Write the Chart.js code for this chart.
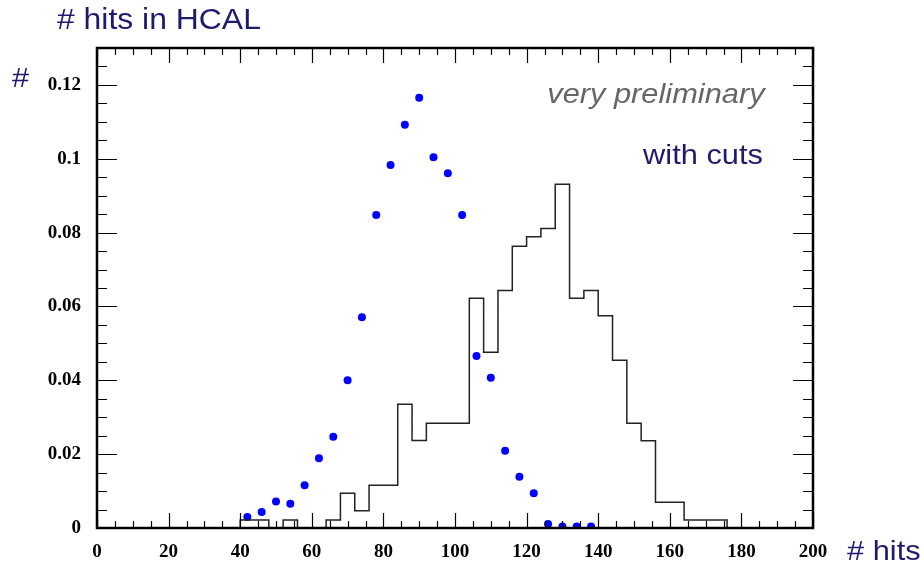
<!DOCTYPE html>
<html>
<head>
<meta charset="utf-8">
<script src="https://cdn.jsdelivr.net/npm/chart.js@4.4.1/dist/chart.umd.min.js"></script>
<style>
  body { margin: 0; background: #fff; }
  #wrap { position: relative; width: 924px; height: 568px; }
  .lbl { position: absolute; font-family: "Liberation Sans", Arial, sans-serif; color: #1e1a6e; white-space: nowrap; line-height: 1; transform: scaleX(1.1); }
  .l { transform-origin: left center; }
  .r { transform-origin: right center; }
</style>
</head>
<body>
<div id="wrap">
  <canvas id="myChart" width="924" height="568"></canvas>
  <div class="lbl l" style="left:57px; top:5px; font-size:29px;"># hits in HCAL</div>
  <div class="lbl l" style="left:12px; top:64px; font-size:28px;">#</div>
  <div class="lbl l" style="left:847px; top:537px; font-size:28px;"># hits</div>
  <div class="lbl r" style="right:159px; top:80px; font-size:28px; font-style:italic; color:#666;">very preliminary</div>
  <div class="lbl r" style="right:161px; top:141px; font-size:28px;">with cuts</div>
</div>
<script>
// histogram of hits (black outline), bin edges and bin contents
const histEdges = [40, 44, 48, 52, 56, 60, 64, 68, 72, 76, 80, 84, 88, 92, 96, 100, 104, 108,
  112, 116, 120, 124, 128, 132, 136, 140, 144, 148, 152, 156, 160, 164, 168, 172, 176];
const histValues = [0.0022, 0.0022, 0, 0.0022, 0, 0, 0.0022, 0.0094, 0.0047, 0.0116, 0.0116,
  0.0335, 0.0237, 0.0284, 0.0284, 0.0284, 0.0622, 0.0476, 0.0643, 0.0763, 0.0789, 0.0811,
  0.0931, 0.0622, 0.0643, 0.0575, 0.0454, 0.0284, 0.0236, 0.0070, 0.0070, 0.0022, 0.0022, 0.0022];

// blue markers
const pointX = [42, 46, 50, 54, 58, 62, 66, 70, 74, 78, 82, 86, 90, 94, 98, 102, 106, 110,
  114, 118, 122, 126, 130, 134, 138];
const pointY = [0.0030, 0.0043, 0.0072, 0.0066, 0.0116, 0.0189, 0.0247, 0.0400, 0.0571, 0.0848,
  0.0983, 0.1092, 0.1165, 0.1004, 0.0961, 0.0848, 0.0466, 0.0407, 0.0209, 0.0139, 0.0094,
  0.0011, 0.0004, 0.0004, 0.0004];

const yTickValues = [0, 0.02, 0.04, 0.06, 0.08, 0.1, 0.12];

const myChartElement = document.getElementById('myChart');

// outline: each bin value runs from its low edge to the next edge
let histData = [{ x: histEdges[0], y: 0 }];
histValues.forEach((v, i) => {
  histData.push({ x: histEdges[i + 1], y: v });
});
histData.push({ x: histEdges[histEdges.length - 1], y: 0 });

let pointData = pointX.map((x, i) => ({ x: x, y: pointY[i] }));

// ROOT-like frame with inward ticks on all four sides
const frameTicks = {
  id: 'frameTicks',
  afterDatasetsDraw(chart) {
    const { ctx, chartArea: a, scales: { x, y } } = chart;
    ctx.save();
    ctx.strokeStyle = '#000';
    ctx.lineWidth = 1.2;
    ctx.beginPath();
    for (let v = 0; v <= 200; v += 5) {
      const px = Math.round(x.getPixelForValue(v)) + 0.5;
      const len = v % 20 === 0 ? 15 : 7;
      ctx.moveTo(px, a.bottom); ctx.lineTo(px, a.bottom - len);
      ctx.moveTo(px, a.top); ctx.lineTo(px, a.top + len);
    }
    for (let k = 0; k <= 26; k++) {
      const v = k * 0.005;
      const py = Math.round(y.getPixelForValue(v)) + 0.5;
      const len = k % 4 === 0 ? 20 : 10;
      ctx.moveTo(a.left, py); ctx.lineTo(a.left + len, py);
      ctx.moveTo(a.right, py); ctx.lineTo(a.right - len, py);
    }
    ctx.stroke();
    ctx.lineWidth = 2.5;
    ctx.strokeRect(a.left, a.top, a.right - a.left, a.bottom - a.top);
    ctx.restore();
  }
};

const tickFont = { family: '"Liberation Serif", "Times New Roman", serif', size: 19, weight: 'bold' };

let myChart = new Chart(myChartElement, {
  type: 'scatter',
  data: {
    datasets: [
      {
        label: 'hits',
        data: histData,
        showLine: true,
        stepped: 'after',
        borderColor: '#222',
        borderWidth: 1.5,
        pointRadius: 0,
        fill: false
      },
      {
        label: 'points',
        data: pointData,
        showLine: false,
        pointStyle: 'circle',
        pointRadius: 4,
        pointBackgroundColor: '#0000ff',
        pointBorderColor: '#0000ff',
        pointBorderWidth: 0
      }
    ]
  },
  options: {
    responsive: false,
    animation: false,
    layout: { padding: { top: 48, right: 111, left: 0, bottom: 0 } },
    plugins: {
      legend: { display: false },
      tooltip: { enabled: false }
    },
    scales: {
      x: {
        type: 'linear',
        min: 0,
        max: 200,
        ticks: { stepSize: 20, font: tickFont, color: '#000', padding: 13, maxRotation: 0 },
        grid: { display: false, drawTicks: false },
        border: { display: false },
        afterFit: (scale) => { scale.height = 40; }
      },
      y: {
        min: 0,
        max: 0.13,
        afterBuildTicks: (scale) => { scale.ticks = yTickValues.map(v => ({ value: v })); },
        ticks: {
          font: tickFont,
          color: '#000',
          padding: 16,
          callback: (v) => v === 0 ? '0' : v.toFixed(2).replace(/0$/, '')
        },
        grid: { display: false, drawTicks: false },
        border: { display: false },
        afterFit: (scale) => { scale.width = 97; }
      }
    }
  },
  plugins: [frameTicks]
});
</script>
</body>
</html>
